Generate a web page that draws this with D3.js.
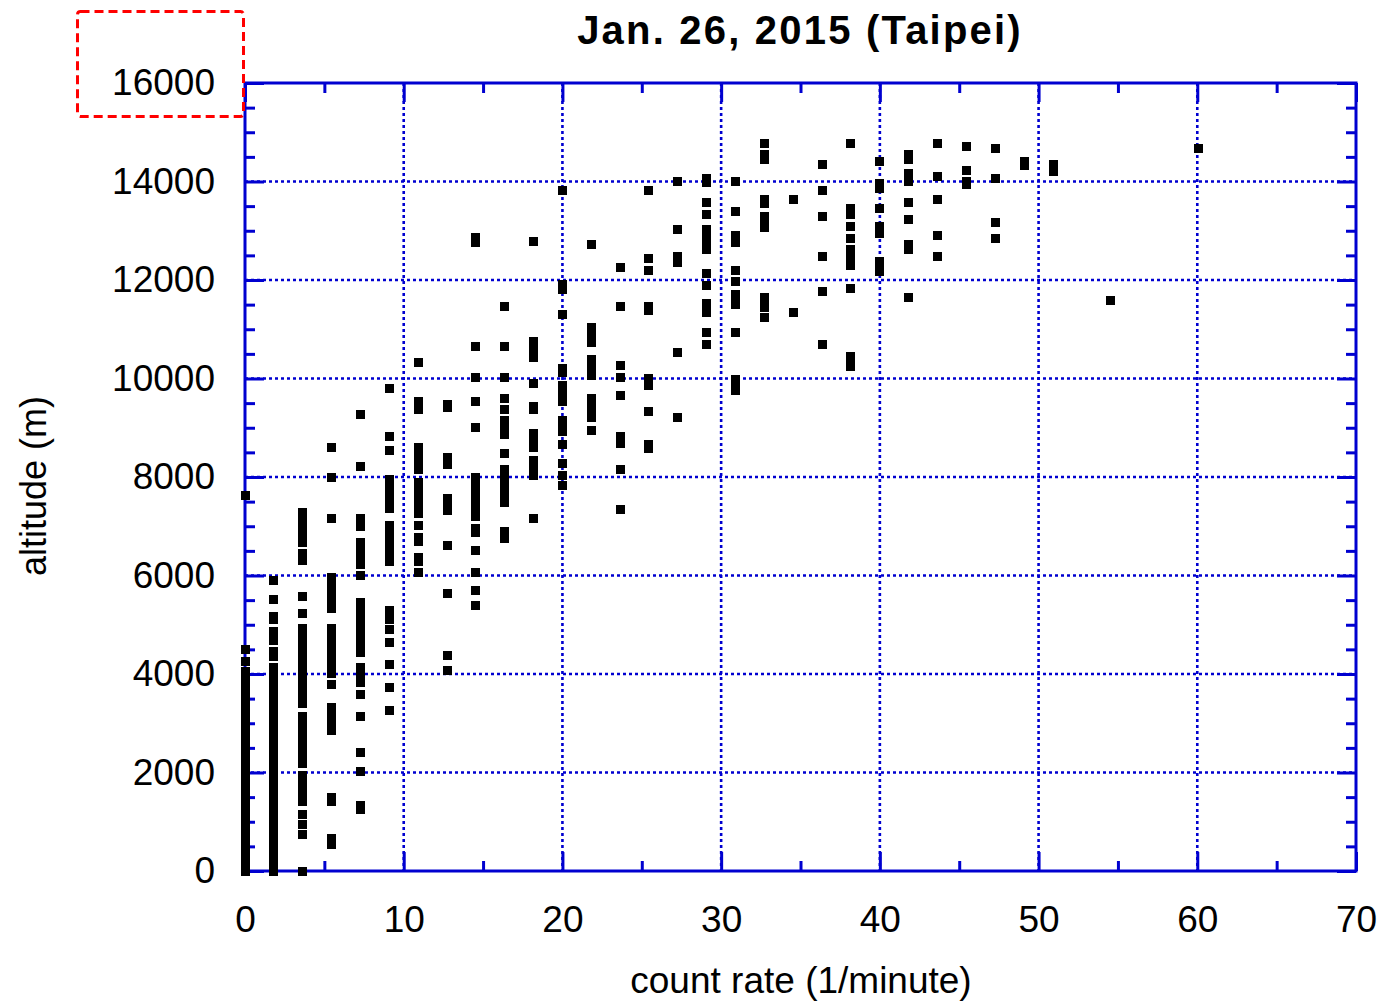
<!DOCTYPE html>
<html>
<head>
<meta charset="utf-8">
<script src="https://cdn.jsdelivr.net/npm/d3@7"></script>
<style>
  body { margin: 0; background: #fff; }
  svg text { font-family: "Liberation Sans", Arial, sans-serif; fill: #000; }
</style>
</head>
<body>
<div id="chart"></div>
<script>
// count rate levels (1/minute), one per column of points
const countRates = [0, 1.82, 3.64, 5.45, 7.27, 9.09, 10.91, 12.73, 14.55, 16.36,
  18.18, 20.0, 21.82, 23.64, 25.45, 27.27, 29.09, 30.91, 32.73, 34.55,
  36.36, 38.18, 40.0, 41.82, 43.64, 45.45, 47.27, 49.09, 50.91, 54.55, 60.1];

// altitudes (m) for each count rate above
const altitudes = [
  [7630, 4490, 4250, 4050, 3900, 3750, 3600, 3450, 3300, 3150, 3000, 2850, 2700, 2550, 2400,
   2250, 2100, 1950, 1800, 1650, 1500, 1350, 1200, 1050, 900, 750, 600, 450, 300, 150, 0],
  [5890, 5520, 5160, 5100, 4870, 4690, 4450, 4360, 4140, 4000, 3850, 3700, 3550, 3400, 3250,
   3100, 2950, 2800, 2650, 2500, 2350, 2200, 2050, 1900, 1750, 1600, 1450, 1300, 1150, 1000,
   850, 700, 550, 400, 250, 100, 0],
  [7270, 7120, 6970, 6810, 6660, 6440, 6300, 5580, 5220, 4930, 4780, 4630, 4480, 4330, 4170,
   4020, 3870, 3720, 3560, 3410, 3130, 2980, 2820, 2660, 2500, 2350, 2190, 1930, 1760, 1590,
   1420, 1140, 950, 750, 0],
  [8590, 8000, 7150, 5950, 5790, 5640, 5480, 5320, 4930, 4780, 4630, 4480, 4320, 4170, 4020,
   3780, 3310, 3160, 3010, 2860, 1500, 1420, 650, 530],
  [9260, 8220, 7150, 7000, 6660, 6520, 6370, 6230, 6010, 5460, 5310, 5170, 5020, 4870, 4730,
   4580, 4430, 4140, 3980, 3820, 3590, 3130, 2400, 2030, 1320, 1240],
  [9790, 8830, 8530, 7940, 7800, 7660, 7510, 7370, 7020, 6870, 6730, 6580, 6440, 6290, 5280,
   5100, 4910, 4630, 4200, 3720, 3250],
  [10330, 9540, 9380, 8590, 8450, 8300, 8160, 7880, 7720, 7570, 7410, 7250, 7020, 6780, 6700,
   6370, 6290, 6070],
  [9480, 9420, 8400, 8260, 7570, 7440, 7310, 6600, 5640, 4380, 4080],
  [12860, 12760, 10640, 10030, 9540, 9010, 8000, 7840, 7680, 7520, 7350, 7190, 6960, 6880, 6500,
   6070, 5700, 5400],
  [11470, 10640, 10030, 9600, 9380, 9140, 9000, 8870, 8470, 8160, 7990, 7830, 7660, 7490, 6900, 6760],
  [12790, 10760, 10600, 10430, 9900, 9440, 9380, 8890, 8740, 8590, 8340, 8190, 8040, 7150],
  [13820, 11900, 11810, 11290, 10210, 10130, 9850, 9700, 9540, 9140, 9030, 8930, 8650, 8280, 8040, 7820],
  [12730, 11040, 10890, 10740, 10390, 10230, 10070, 9600, 9470, 9330, 9200, 8950],
  [12260, 11470, 10270, 10030, 9660, 8830, 8690, 8160, 7330],
  [13820, 12440, 12200, 11470, 11390, 9990, 9850, 9320, 8650, 8570],
  [13990, 13030, 12480, 12360, 10520, 9200],
  [14060, 13980, 13580, 13340, 13030, 12890, 12750, 12610, 12140, 11880, 11530, 11430, 11330, 10940, 10700],
  [13990, 13400, 12910, 12770, 12200, 11960, 11710, 11610, 11510, 10940, 9970, 9870, 9760],
  [14780, 14540, 14450, 13640, 13560, 13280, 13180, 13070, 11650, 11550, 11450, 11230],
  [13640, 11350],
  [14350, 13820, 13280, 12480, 11770, 10700],
  [14780, 13460, 13390, 13320, 13090, 12850, 12610, 12460, 12300, 11830, 10450, 10350, 10250],
  [14410, 13950, 13860, 13460, 13090, 12950, 12380, 12280, 12180],
  [14540, 14450, 14170, 14080, 13990, 13580, 13220, 12730, 12610, 11650],
  [14780, 14110, 13640, 12910, 12480],
  [14720, 14230, 13990, 13930],
  [14660, 14060, 13160, 12850],
  [14410, 14330],
  [14350, 14210],
  [11590],
  [14660]
];

const xTicks = [0, 10, 20, 30, 40, 50, 60, 70];
const xMinorTicks = [5, 15, 25, 35, 45, 55, 65];
const yTicks = [0, 2000, 4000, 6000, 8000, 10000, 12000, 14000, 16000];
const yMinorTicks = d3.range(500, 16000, 500).filter(v => v % 2000 !== 0);

const titleText = 'Jan. 26, 2015 (Taipei)';
const xLabel = 'count rate (1/minute)';
const yLabel = 'altitude (m)';

class Graph {
  selection(selector) {
    if (!selector) return this._selection;
    this._selection = d3.select(selector);
    return this;
  }

  data(newData) {
    if (!newData) return this._data || [];
    this._data = newData;
    return this;
  }

  props(newProps) {
    if (!newProps) return this._props;
    this._props = Object.assign({}, this._props, newProps);
    return this;
  }

  setGraph() {
    const data = this.data();
    const { width, height } = this.props();
    const blue = '#0000d0';

    this.margin = { top: 83, right: 26, bottom: 130, left: 245 };
    this.boundedWidth = width - this.margin.left - this.margin.right;
    this.boundedHeight = height - this.margin.top - this.margin.bottom;

    // Scales
    this.xScale = d3.scaleLinear().domain([0, 70]).range([0, this.boundedWidth]);
    this.yScale = d3.scaleLinear().domain([0, 16000]).range([this.boundedHeight, 0]);

    this.svg = this.selection().append('svg')
      .attr('width', width)
      .attr('height', height);

    const plot = this.svg.append('g')
      .attr('transform', `translate(${this.margin.left}, ${this.margin.top})`);

    // dotted grid
    const grid = plot.append('g')
      .attr('stroke', blue)
      .attr('stroke-width', 2.6)
      .attr('stroke-dasharray', '3,3');
    grid.selectAll('.gx')
      .data(xTicks.slice(1, -1))
      .join('line')
      .attr('x1', d => this.xScale(d)).attr('x2', d => this.xScale(d))
      .attr('y1', 0).attr('y2', this.boundedHeight);
    grid.selectAll('.gy')
      .data(yTicks.slice(1, -1))
      .join('line')
      .attr('y1', d => this.yScale(d)).attr('y2', d => this.yScale(d))
      .attr('x1', 0).attr('x2', this.boundedWidth);

    // axes: inward ticks on all four sides
    const styleAxis = g => {
      g.select('.domain').remove();
      g.selectAll('line').attr('stroke', blue).attr('stroke-width', 3);
      g.selectAll('text')
        .attr('font-family', '"Liberation Sans", Arial, sans-serif')
        .attr('font-size', 37)
        .attr('fill', '#000');
    };

    plot.append('g')
      .attr('transform', `translate(0, ${this.boundedHeight})`)
      .call(d3.axisBottom(this.xScale).tickValues(xTicks).tickSize(-19).tickPadding(35).tickFormat(d3.format('d')))
      .call(styleAxis);
    plot.append('g')
      .attr('transform', `translate(0, ${this.boundedHeight})`)
      .call(d3.axisBottom(this.xScale).tickValues(xMinorTicks).tickSize(-10).tickFormat(''))
      .call(styleAxis);
    plot.append('g')
      .call(d3.axisTop(this.xScale).tickValues(xTicks).tickSize(-19).tickFormat(''))
      .call(styleAxis);
    plot.append('g')
      .call(d3.axisTop(this.xScale).tickValues(xMinorTicks).tickSize(-10).tickFormat(''))
      .call(styleAxis);

    plot.append('g')
      .call(d3.axisLeft(this.yScale).tickValues(yTicks).tickSize(-19).tickPadding(30).tickFormat(d3.format('d')))
      .call(styleAxis);
    plot.append('g')
      .call(d3.axisLeft(this.yScale).tickValues(yMinorTicks).tickSize(-10).tickFormat(''))
      .call(styleAxis);
    plot.append('g')
      .attr('transform', `translate(${this.boundedWidth}, 0)`)
      .call(d3.axisRight(this.yScale).tickValues(yTicks).tickSize(-19).tickFormat(''))
      .call(styleAxis);
    plot.append('g')
      .attr('transform', `translate(${this.boundedWidth}, 0)`)
      .call(d3.axisRight(this.yScale).tickValues(yMinorTicks).tickSize(-10).tickFormat(''))
      .call(styleAxis);

    // frame
    plot.append('rect')
      .attr('width', this.boundedWidth)
      .attr('height', this.boundedHeight)
      .attr('fill', 'none')
      .attr('stroke', blue)
      .attr('stroke-width', 3);

    // points - small black squares, snapped to whole pixels so runs look solid
    const size = 9;
    plot.append('g')
      .attr('shape-rendering', 'crispEdges')
      .selectAll('.pt')
      .data(data)
      .join('rect')
      .classed('pt', true)
      .attr('x', d => Math.round(this.xScale(d.rate) - size / 2))
      .attr('y', d => Math.round(this.yScale(d.alt) - size / 2))
      .attr('width', size)
      .attr('height', size)
      .attr('fill', '#000');

    // titles
    this.svg.append('text')
      .attr('x', 800).attr('y', 44)
      .attr('text-anchor', 'middle')
      .attr('font-size', 40)
      .attr('font-weight', 'bold')
      .attr('letter-spacing', 2.2)
      .text(titleText);

    this.svg.append('text')
      .attr('x', 801).attr('y', 993)
      .attr('text-anchor', 'middle')
      .attr('font-size', 37)
      .text(xLabel);

    this.svg.append('text')
      .attr('transform', 'translate(46, 486) rotate(-90)')
      .attr('text-anchor', 'middle')
      .attr('font-size', 36)
      .text(yLabel);

    // dashed red highlight around the top y label
    this.svg.append('rect')
      .attr('x', 77.5).attr('y', 11.5)
      .attr('width', 166).attr('height', 105)
      .attr('rx', 3)
      .attr('fill', 'none')
      .attr('stroke', '#ff0000')
      .attr('stroke-width', 3)
      .attr('stroke-dasharray', '9,5');

    return this;
  }
}

const points = countRates.flatMap((rate, i) => altitudes[i].map(alt => ({ rate, alt })));

new Graph()
  .selection('#chart')
  .data(points)
  .props({ width: 1382, height: 1001 })
  .setGraph();
</script>
</body>
</html>
